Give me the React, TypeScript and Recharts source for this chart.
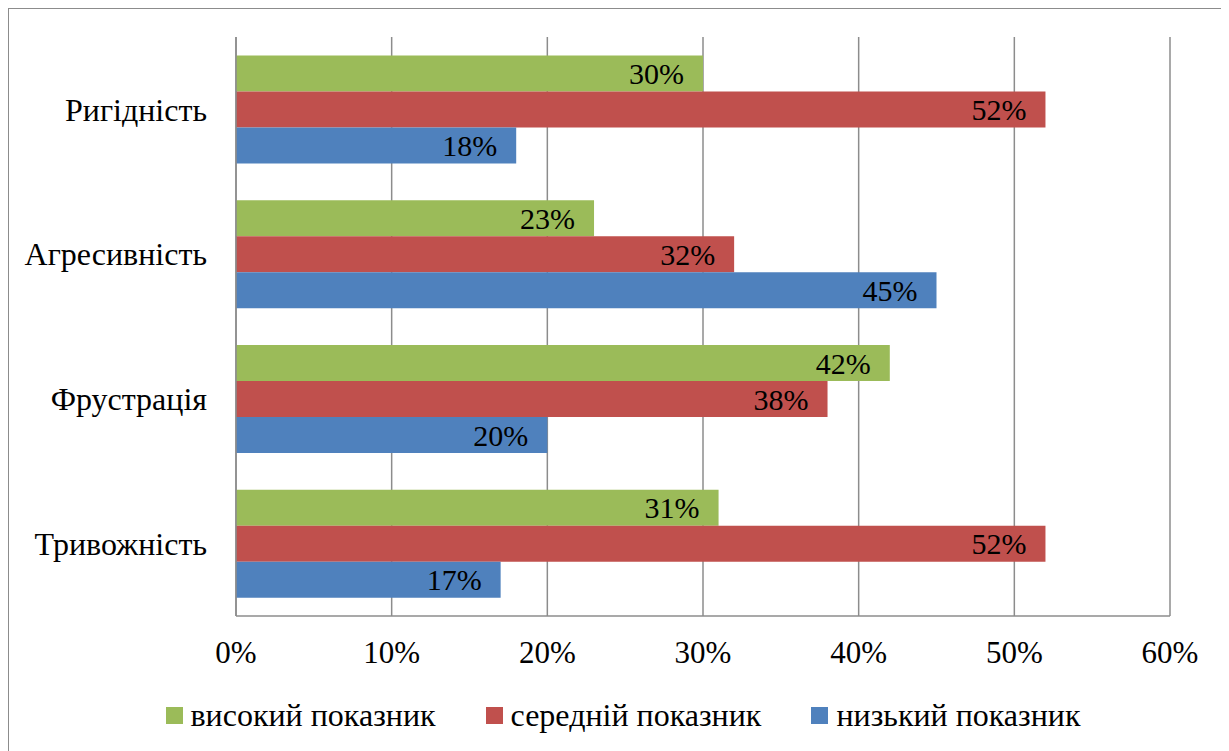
import { Bar, BarChart, CartesianGrid, LabelList, Legend, XAxis, YAxis } from "recharts";

const categories = ["Ригідність", "Агресивність", "Фрустрація", "Тривожність"];
const highValues = [30, 23, 42, 31];
const midValues = [52, 32, 38, 52];
const lowValues = [18, 45, 20, 17];
const xTicks = [0, 10, 20, 30, 40, 50, 60];

const seriesKeys = ["high", "mid", "low"];
const seriesNames = ["високий показник", "середній показник", "низький показник"];
const seriesColors = ["#9BBB59", "#C0504D", "#4F81BD"];

const data = categories.map((name, i) => ({
  name,
  high: highValues[i],
  mid: midValues[i],
  low: lowValues[i],
}));

const FONT = "Liberation Serif";
const GRID = "#8c8c8c";

// legend built from the series arrays so the order stays high / mid / low
function LegendRow() {
  return (
    <div
      style={{
        display: "flex",
        justifyContent: "center",
        alignItems: "center",
        gap: 50,
        height: 40,
        paddingLeft: 67,
        fontFamily: FONT,
        fontSize: 32,
        color: "#000",
      }}
    >
      {seriesNames.map((label, i) => (
        <div key={label} style={{ display: "flex", alignItems: "center" }}>
          <span style={{ width: 17, height: 17, background: seriesColors[i], marginRight: 8, display: "inline-block" }} />
          <span>{label}</span>
        </div>
      ))}
    </div>
  );
}

export default function App() {
  return (
    <div style={{ width: 1218, height: 742, border: `1px solid ${GRID}`, background: "#fff", fontFamily: FONT }}>
      <BarChart
        width={1218}
        height={742}
        data={data}
        layout="vertical"
        margin={{ top: 28, right: 57, bottom: 16, left: 0 }}
        barCategoryGap="12.7%"
        barGap={0}
      >
        <CartesianGrid horizontal={false} stroke={GRID} strokeWidth={1.5} />
        <XAxis
          type="number"
          domain={[0, 60]}
          ticks={xTicks}
          tickFormatter={(v) => `${v}%`}
          tickLine={false}
          tickSize={0}
          tickMargin={25}
          height={79}
          axisLine={{ stroke: GRID, strokeWidth: 1.5 }}
          tick={{ fill: "#000", fontSize: 31, fontFamily: FONT }}
        />
        <YAxis
          type="category"
          dataKey="name"
          width={227}
          tickLine={false}
          tickSize={0}
          tickMargin={29}
          axisLine={{ stroke: GRID, strokeWidth: 1.5 }}
          tick={{ fill: "#000", fontSize: 32, fontFamily: FONT }}
        />
        <Legend verticalAlign="bottom" content={<LegendRow />} />
        {seriesKeys.map((key, i) => (
          <Bar key={key} dataKey={key} name={seriesNames[i]} fill={seriesColors[i]} isAnimationActive={false}>
            <LabelList
              dataKey={key}
              position="insideRight"
              offset={19}
              formatter={(v: any) => `${v}%`}
              fill="#000"
              fontSize={30}
              fontFamily={FONT}
            />
          </Bar>
        ))}
      </BarChart>
    </div>
  );
}
